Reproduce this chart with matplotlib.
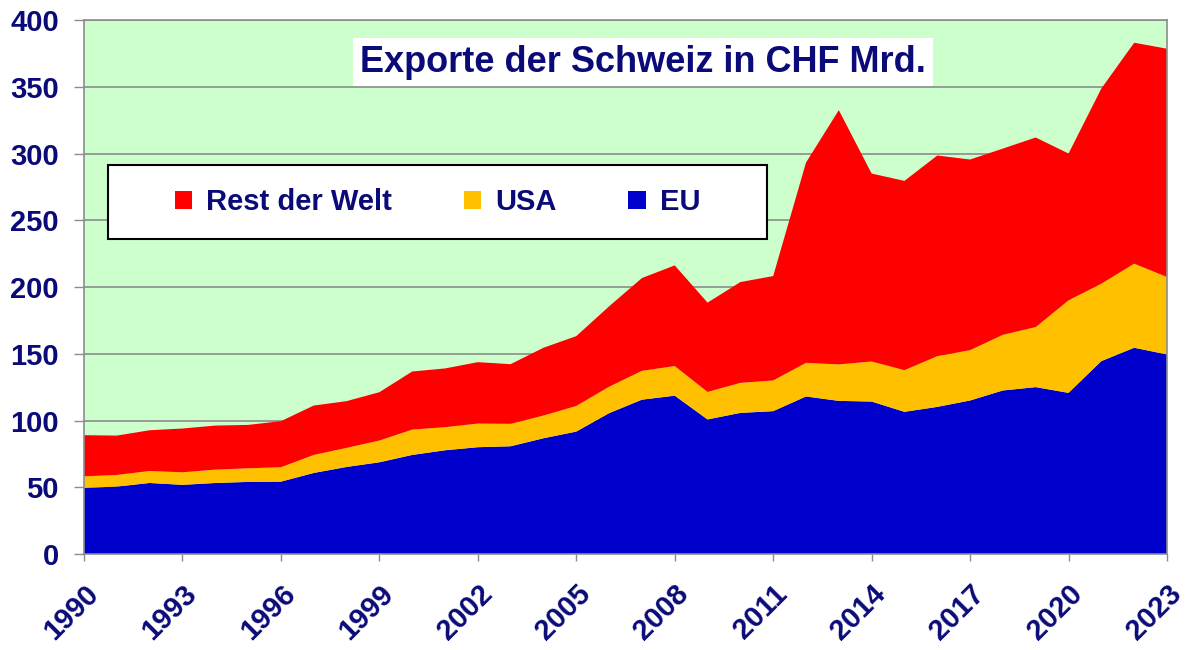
import matplotlib
matplotlib.use("Agg")
import matplotlib.pyplot as plt
from matplotlib.patches import Rectangle, Patch

years = list(range(1990, 2024))
eu = [49.5, 50.5, 53.2, 51.8, 53.2, 54.0, 54.2, 60.7, 65.2, 68.7, 74.2, 77.7,
      80.0, 80.7, 86.7, 91.7, 105.5, 115.6, 118.6, 100.8, 105.7, 107.0, 118.0, 114.7,
      114.2, 106.5, 110.2, 115.0, 122.5, 125.0, 120.7, 144.5, 154.5, 149.5]
usa_top = [58.2, 59.2, 62.2, 61.2, 63.2, 64.2, 65.0, 74.2, 79.5, 85.0, 93.2, 95.0,
           97.7, 97.5, 103.7, 110.9, 125.3, 137.2, 140.8, 121.4, 128.2, 130.0, 143.2, 142.0,
           144.2, 137.7, 148.2, 152.7, 164.2, 170.0, 190.0, 202.5, 217.5, 207.5]
total = [89.0, 88.7, 92.7, 94.0, 96.2, 96.7, 99.5, 111.2, 114.5, 121.2, 136.7, 139.0,
         143.7, 142.2, 154.5, 163.2, 185.5, 206.7, 216.2, 188.3, 203.7, 208.2, 293.2, 332.5,
         285.0, 279.5, 298.5, 295.5, 303.7, 312.0, 300.0, 348.7, 383.0, 378.5]
usa = [u - e for u, e in zip(usa_top, eu)]
rest = [t - u for t, u in zip(total, usa_top)]

series_labels = ["Rest der Welt", "USA", "EU"]
colors = {"EU": "#0000CC", "USA": "#FFC000", "Rest der Welt": "#FF0000"}
xtick_years = list(range(1990, 2024, 3))
yticks = list(range(0, 401, 50))
title = "Exporte der Schweiz in CHF Mrd."

navy = "#0A0A78"
plt.rcParams['font.family'] = ['Liberation Sans', 'DejaVu Sans']

fig = plt.figure(figsize=(12, 6.5), dpi=100)
ax = fig.add_axes([0.07, 0.1477, 0.9025, 0.8215])
ax.set_facecolor("#CCFFCC")

ax.stackplot(years, eu, usa, rest,
             colors=[colors["EU"], colors["USA"], colors["Rest der Welt"]],
             linewidth=0, zorder=2)

ax.set_xlim(1990, 2023)
ax.set_ylim(0, 400)
ax.set_yticks(yticks)
ax.set_xticks(xtick_years)
ax.yaxis.grid(True, color="#8C8C8C", linewidth=1.2, zorder=1)
ax.set_axisbelow(True)

for s in ax.spines.values():
    s.set_color("#8C8C8C")
    s.set_linewidth(1.2)

ax.tick_params(axis='y', length=7, width=1, color="#8C8C8C", pad=11,
               labelsize=21, labelcolor=navy)
ax.tick_params(axis='x', length=5, width=1, color="#8C8C8C", pad=4,
               labelsize=21, labelcolor=navy)
for lab in ax.get_yticklabels():
    lab.set_fontweight('bold')
ax.set_xticklabels([str(y) for y in xtick_years], rotation=45, ha='right',
                   va='top', rotation_mode='anchor', fontweight='bold')
for lab in ax.get_xticklabels():
    lab.set_y(-0.025)

# title
ax.text(0.516, 0.9213, title, transform=ax.transAxes, ha='center', va='center',
        fontsize=26, fontweight='bold', color=navy, zorder=5,
        bbox=dict(facecolor='white', edgecolor='none', pad=5))

# legend
ax.add_patch(Rectangle((0.0222, 0.5899), 0.6085, 0.1386, transform=ax.transAxes,
                       facecolor='white', edgecolor='black', linewidth=1.5, zorder=5))
handles = [Patch(facecolor=colors[n], edgecolor='none', label=n) for n in series_labels]
leg = ax.legend(handles=handles, loc='center', bbox_to_anchor=(0.3264, 0.659),
                ncol=3, frameon=False, fontsize=21, handlelength=0.6, handleheight=0.6,
                handletextpad=0.48, columnspacing=2.45)
leg.set_zorder(6)
for t in leg.get_texts():
    t.set_color(navy)
    t.set_fontweight('bold')

fig.savefig("out.png", dpi=100)
